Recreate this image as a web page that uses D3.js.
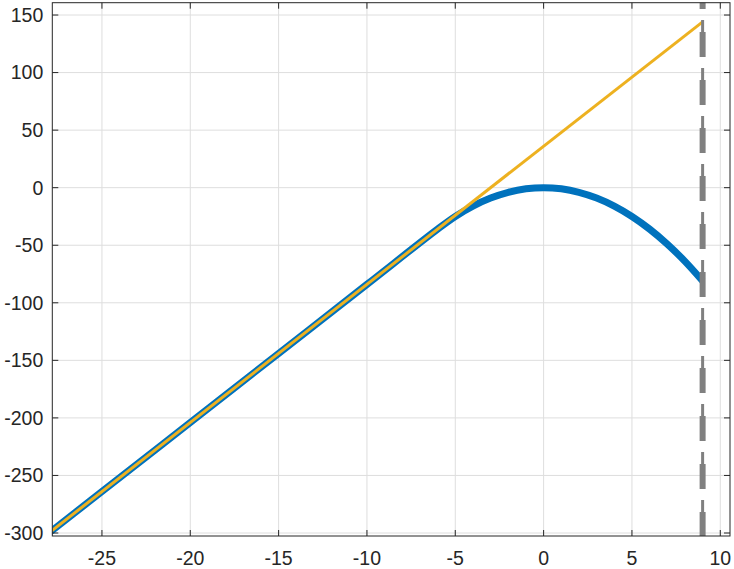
<!DOCTYPE html>
<html>
<head>
<meta charset="utf-8">
<script src="https://cdn.jsdelivr.net/npm/d3@7"></script>
<style>
  body { margin: 0; background: #fff; }
  svg { display: block; }
  text { font-family: "Liberation Sans", Arial, sans-serif; fill: #262626; }
</style>
</head>
<body>
<svg id="chart" width="734" height="569"></svg>
<script>
// curve values
var curveX = [-28, -25, -20, -15, -10, -6, -5, -4, -3, -2, -1, 0, 1, 2, 3, 4, 5, 6, 7, 8, 9];
var curveY = [-300, -264, -204, -144, -84, -36, -25, -16, -9, -4, -1, 0, -1, -4, -9, -16, -25, -36, -49, -64, -81];

var tangentX = [-28, 9];
var tangentY = [-300, 144];

var markerX = 9;

var xTicks = [-25, -20, -15, -10, -5, 0, 5, 10];
var yTicks = [-300, -250, -200, -150, -100, -50, 0, 50, 100, 150];

var xDomain = [-27.81, 10.55];
var yDomain = [-302.6, 160.7];

// plot box in pixels (window.top is read-only, so own names)
var boxL = 52.3, boxR = 730, boxT = 2.7, boxB = 536;

var svg = d3.select("#chart");

var x = d3.scaleLinear().domain(xDomain).range([boxL, boxR]);
var y = d3.scaleLinear().domain(yDomain).range([boxB, boxT]);

svg.append("clipPath").attr("id", "plot-clip")
    .append("rect")
    .attr("x", boxL).attr("y", boxT)
    .attr("width", boxR - boxL).attr("height", boxB - boxT);

// grid
var grid = svg.append("g").attr("stroke", "#dedede").attr("stroke-width", 1);
grid.selectAll("line.gx")
    .data(xTicks)
    .enter().append("line")
    .attr("class", "gx")
    .attr("x1", d => x(d)).attr("x2", d => x(d))
    .attr("y1", boxT).attr("y2", boxB);
grid.selectAll("line.gy")
    .data(yTicks)
    .enter().append("line")
    .attr("class", "gy")
    .attr("y1", d => y(d)).attr("y2", d => y(d))
    .attr("x1", boxL).attr("x2", boxR);

var plot = svg.append("g").attr("clip-path", "url(#plot-clip)");

var line = d3.line()
    .x(d => x(d[0]))
    .y(d => y(d[1]))
    .curve(d3.curveCatmullRom);

plot.append("path")
    .datum(d3.zip(curveX, curveY))
    .attr("d", line)
    .attr("fill", "none")
    .attr("stroke", "#0072BD")
    .attr("stroke-width", 7)
    .attr("stroke-linejoin", "round");

plot.append("path")
    .datum(d3.zip(tangentX, tangentY))
    .attr("d", d3.line().x(d => x(d[0])).y(d => y(d[1])))
    .attr("fill", "none")
    .attr("stroke", "#EDB120")
    .attr("stroke-width", 3);

// vertical marker, thick dashes with a thin lead-in
svg.append("line")
    .attr("x1", x(markerX)).attr("x2", x(markerX))
    .attr("y1", boxT).attr("y2", boxB)
    .attr("stroke", "#808080")
    .attr("stroke-width", 3)
    .attr("stroke-dasharray", "12,36")
    .attr("stroke-dashoffset", 30.7);
svg.append("line")
    .attr("x1", x(markerX)).attr("x2", x(markerX))
    .attr("y1", boxT).attr("y2", boxB)
    .attr("stroke", "#808080")
    .attr("stroke-width", 6)
    .attr("stroke-dasharray", "25,23")
    .attr("stroke-dashoffset", 18.7);

// axes box and ticks
var axes = svg.append("g").attr("stroke", "#262626").attr("stroke-width", 1).attr("fill", "none");
axes.append("rect")
    .attr("x", boxL).attr("y", boxT)
    .attr("width", boxR - boxL).attr("height", boxB - boxT);

var tl = 6;
axes.selectAll("path.tx")
    .data(xTicks)
    .enter().append("path")
    .attr("class", "tx")
    .attr("d", d => "M" + x(d) + "," + boxB + "v" + (-tl) + "M" + x(d) + "," + boxT + "v" + tl);
axes.selectAll("path.ty")
    .data(yTicks)
    .enter().append("path")
    .attr("class", "ty")
    .attr("d", d => "M" + boxL + "," + y(d) + "h" + tl + "M" + boxR + "," + y(d) + "h" + (-tl));

var labels = svg.append("g").attr("font-size", "19.5px");
labels.selectAll("text.lx")
    .data(xTicks)
    .enter().append("text")
    .attr("class", "lx")
    .attr("x", d => x(d))
    .attr("y", boxB + 29)
    .attr("text-anchor", "middle")
    .text(d => d);
labels.selectAll("text.ly")
    .data(yTicks)
    .enter().append("text")
    .attr("class", "ly")
    .attr("x", boxL - 9)
    .attr("y", d => y(d))
    .attr("dy", "0.35em")
    .attr("text-anchor", "end")
    .text(d => d);
</script>
</body>
</html>
